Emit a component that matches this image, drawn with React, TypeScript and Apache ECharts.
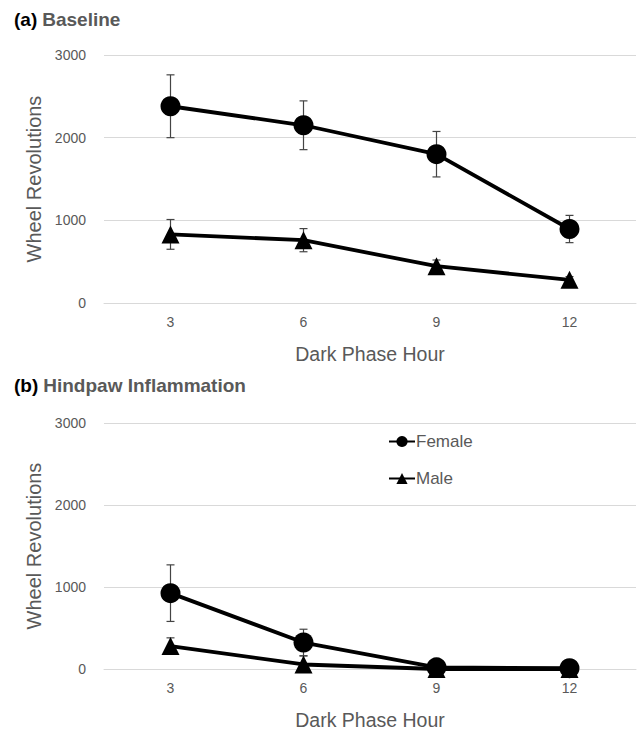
import React, { useEffect, useRef } from "react";
import * as echarts from "echarts";

const hours = ["3", "6", "9", "12"];
const yTicks = [0, 1000, 2000, 3000];

const baseFemale = [2380, 2150, 1800, 895];
const baseFemaleErr = [380, 295, 275, 165];
const baseMale = [830, 760, 445, 280];
const baseMaleErr = [180, 140, 75, 40];

const inflFemale = [925, 323, 20, 10];
const inflFemaleErr = [345, 162, 15, 10];
const inflMale = [280, 55, 0, 0];
const inflMaleErr = [100, 105, 5, 5];

const GRAY = "#595959";
const TICK_FONT = "'Liberation Sans Narrow', 'Liberation Sans', Arial, sans-serif";
const NAME_FONT = "'Liberation Sans', Arial, sans-serif";

function errData(vals: number[], errs: number[]) {
  return vals.map((v, i) => [i, v - errs[i], v + errs[i]]);
}

function errSeries(gridIdx: number, vals: number[], errs: number[]) {
  return {
    type: "custom",
    xAxisIndex: gridIdx,
    yAxisIndex: gridIdx,
    z: 1,
    silent: true,
    data: errData(vals, errs),
    renderItem: (params: any, api: any) => {
      const x = api.value(0);
      const lo = api.coord([x, Math.max(0, api.value(1))]);
      const hi = api.coord([x, api.value(2)]);
      const cap = 4;
      const style = { stroke: "#444", lineWidth: 1.2 };
      return {
        type: "group",
        children: [
          { type: "line", shape: { x1: lo[0], y1: lo[1], x2: hi[0], y2: hi[1] }, style },
          { type: "line", shape: { x1: hi[0] - cap, y1: hi[1], x2: hi[0] + cap, y2: hi[1] }, style },
          { type: "line", shape: { x1: lo[0] - cap, y1: lo[1], x2: lo[0] + cap, y2: lo[1] }, style },
        ],
      };
    },
  };
}

function lineSeries(name: string, gridIdx: number, vals: number[], symbol: string, size: number) {
  return {
    type: "line",
    name,
    xAxisIndex: gridIdx,
    yAxisIndex: gridIdx,
    z: 3,
    data: vals,
    symbol,
    symbolSize: size,
    showAllSymbol: true,
    lineStyle: { color: "#000", width: 3.8 },
    itemStyle: { color: "#000" },
  };
}

function xAxis(gridIndex: number) {
  return {
    type: "category",
    gridIndex,
    data: hours,
    boundaryGap: true,
    axisLine: { show: true, lineStyle: { color: "#d9d9d9", width: 1 } },
    axisTick: { show: false },
    axisLabel: { color: GRAY, fontSize: 14, fontFamily: TICK_FONT, margin: 12 },
    name: "Dark Phase Hour",
    nameLocation: "middle",
    nameGap: 41,
    nameTextStyle: { color: GRAY, fontSize: 19.5, fontFamily: NAME_FONT },
  };
}

function yAxis(gridIndex: number) {
  return {
    type: "value",
    gridIndex,
    min: yTicks[0],
    max: yTicks[yTicks.length - 1],
    interval: 1000,
    axisLine: { show: false },
    axisTick: { show: false },
    splitLine: { lineStyle: { color: "#d9d9d9", width: 1 } },
    axisLabel: {
      color: GRAY,
      fontSize: 14,
      fontFamily: TICK_FONT,
      margin: 18,
      formatter: (v: number) => String(v),
    },
    name: "Wheel Revolutions",
    nameLocation: "middle",
    nameGap: 60,
    nameTextStyle: { color: GRAY, fontSize: 20, fontFamily: NAME_FONT },
  };
}

export default function App() {
  const ref = useRef<HTMLDivElement>(null);
  useEffect(() => {
    if (!ref.current) return;
    const chart = echarts.init(ref.current, undefined, { renderer: "svg" });
    const titleRich = {
      a: { fontSize: 19, fontWeight: "bold", color: "#000", fontFamily: NAME_FONT },
      b: { fontSize: 19, fontWeight: "bold", color: GRAY, fontFamily: NAME_FONT },
    };
    chart.setOption({
      animation: false,
      backgroundColor: "#fff",
      title: [
        { text: "{a|(a)} {b|Baseline}", left: 9, top: 5, textStyle: { rich: titleRich } },
        { text: "{a|(b)} {b|Hindpaw Inflammation}", left: 9, top: 371, textStyle: { rich: titleRich } },
      ],
      legend: {
        orient: "vertical",
        left: 383,
        top: 428,
        itemGap: 20,
        itemWidth: 26,
        itemHeight: 14,
        data: ["Female", "Male"],
        textStyle: { color: GRAY, fontSize: 17, fontFamily: TICK_FONT, padding: [0, 0, 0, -4] },
        selectedMode: false,
      },
      grid: [
        { left: 104, right: 4, top: 55, height: 248 },
        { left: 104, right: 4, top: 423, height: 248 },
      ],
      xAxis: [xAxis(0), xAxis(1)],
      yAxis: [yAxis(0), yAxis(1)],
      series: [
        errSeries(0, baseFemale, baseFemaleErr),
        errSeries(0, baseMale, baseMaleErr),
        errSeries(1, inflFemale, inflFemaleErr),
        errSeries(1, inflMale, inflMaleErr),
        lineSeries("Female", 0, baseFemale, "circle", 20),
        lineSeries("Male", 0, baseMale, "triangle", 18),
        lineSeries("Female", 1, inflFemale, "circle", 20),
        lineSeries("Male", 1, inflMale, "triangle", 18),
      ],
    });
    return () => chart.dispose();
  }, []);
  return (
    <div
      ref={ref}
      style={{ position: "absolute", left: 0, top: 0, width: 640, height: 731, background: "#fff" }}
    />
  );
}
